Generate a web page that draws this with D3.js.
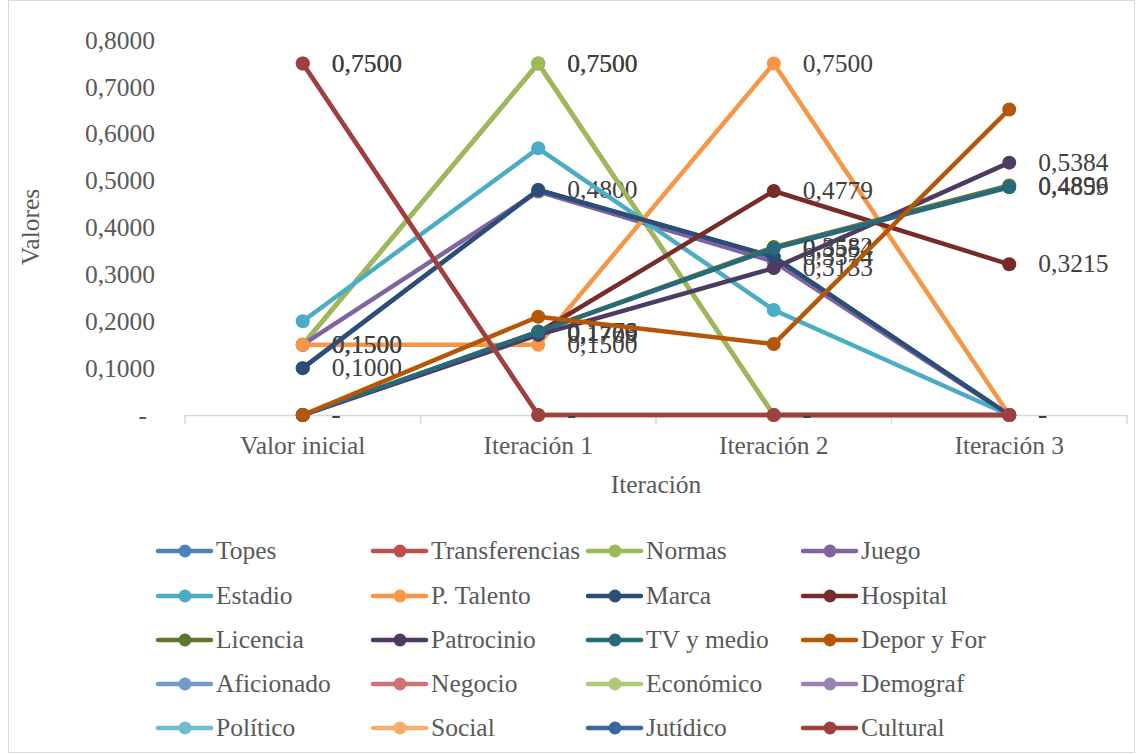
<!DOCTYPE html>
<html>
<head>
<meta charset="utf-8">
<script src="https://cdn.jsdelivr.net/npm/d3@7"></script>
<style>
  body { margin: 0; background: #fff; }
  svg text { font-family: "Liberation Serif", "Times New Roman", serif; }
</style>
</head>
<body>
<div id="chart"></div>
<script>
// categories on the x axis
const categories = ["Valor inicial", "Iteración 1", "Iteración 2", "Iteración 3"];

// series values, one array per series (null = not plotted)
const topes          = [0.1000, 0.4800, 0.3374, 0];
const transferencias = [0.1500, 0.7500, 0, 0];
const normas         = [0.1500, 0.7500, 0, 0];
const juego          = [0.1500, 0.4768, 0.3273, 0];
const estadio        = [0.2000, 0.5690, 0.2239, 0];
const pTalento       = [0.1500, 0.1500, 0.7500, 0];
const marca          = [0.1000, 0.4800, 0.3374, 0];
const hospital       = [0, 0.1760, 0.4779, 0.3215];
const licencia       = [0, 0.1779, 0.3582, 0.4896];
const patrocinio     = [0, 0.1709, 0.3133, 0.5384];
const tvMedio        = [0, 0.1776, 0.3554, 0.4859];
const deporFor       = [0, 0.2096, 0.1514, 0.6518];
const aficionado     = [null, null, null, null];
const negocio        = [0.7500, 0, 0, 0];
const economico      = [null, null, null, null];
const demograf       = [null, null, null, null];
const politico       = [null, null, null, null];
const social         = [null, null, null, null];
const juridico       = [null, null, null, null];
const cultural       = [0.7500, 0, 0, 0];

const seriesNames = ["Topes", "Transferencias", "Normas", "Juego", "Estadio", "P. Talento",
  "Marca", "Hospital", "Licencia", "Patrocinio", "TV y medio", "Depor y For",
  "Aficionado", "Negocio", "Económico", "Demograf", "Político", "Social", "Jutídico", "Cultural"];
const seriesValues = [topes, transferencias, normas, juego, estadio, pTalento,
  marca, hospital, licencia, patrocinio, tvMedio, deporFor,
  aficionado, negocio, economico, demograf, politico, social, juridico, cultural];

// series that carry data labels
const labeledSeries = ["Topes", "Transferencias", "Normas", "P. Talento", "Hospital",
  "Licencia", "Patrocinio", "TV y medio", "Negocio", "Cultural"];

const yTicks = [0, 0.1, 0.2, 0.3, 0.4, 0.5, 0.6, 0.7, 0.8];

const colors = ["#4F81BD", "#C0504D", "#9BBB59", "#8064A2", "#4BACC6", "#F79646",
  "#2C4D75", "#772C2A", "#5F7530", "#4D3B62", "#276A7C", "#B65708",
  "#729ACA", "#CD7371", "#AFC97A", "#9983B5", "#6FBDD1", "#F9AB6B", "#3A679C", "#9E413E"];

const width = 1143, height = 754;
const plot = {left: 185, right: 1127, top: 40, bottom: 415};

const svg = d3.select("#chart").append("svg")
    .attr("width", width)
    .attr("height", height);

svg.append("rect")
    .attr("x", 8.5).attr("y", 0.5)
    .attr("width", 1126).attr("height", 752)
    .attr("fill", "#fff")
    .attr("stroke", "#D9D9D9");

const x = d3.scaleBand()
    .domain(categories)
    .range([plot.left, plot.right])
    .padding(0);
const cx = d => x(d) + x.bandwidth() / 2;

const y = d3.scaleLinear()
    .domain([0, 0.8])
    .range([plot.bottom, plot.top]);

const fmt = v => v === 0 ? "-" : d3.format(".4f")(v).replace(".", ",");

// x axis
const xAxis = svg.append("g")
    .attr("transform", `translate(0,${plot.bottom})`)
    .call(d3.axisBottom(x).tickSize(0).tickPadding(21));
xAxis.select(".domain").attr("stroke", "#D9D9D9").attr("stroke-width", 1.5);
xAxis.selectAll("text")
    .attr("fill", "#595959")
    .style("font-size", "25.5px");
// boundary tick marks between categories
xAxis.selectAll(".bound")
    .data(categories.concat(["__end"]))
    .join("line")
    .attr("class", "bound")
    .attr("x1", (d, i) => i < categories.length ? x(d) : plot.right)
    .attr("x2", (d, i) => i < categories.length ? x(d) : plot.right)
    .attr("y1", 0).attr("y2", 9)
    .attr("stroke", "#D9D9D9")
    .attr("stroke-width", 1.5);

// y axis (labels only)
const yAxis = svg.append("g")
    .attr("transform", `translate(155,0)`)
    .call(d3.axisLeft(y).tickValues(yTicks).tickSize(0).tickPadding(0).tickFormat(fmt));
yAxis.select(".domain").remove();
yAxis.selectAll("text")
    .attr("fill", "#595959")
    .attr("dy", "0.32em")
    .attr("dx", d => d === 0 ? -8 : 0)
    .style("font-size", "25.5px");

// axis titles
svg.append("text")
    .attr("x", 656).attr("y", 484)
    .attr("text-anchor", "middle")
    .attr("dominant-baseline", "central")
    .attr("fill", "#595959")
    .style("font-size", "25.5px")
    .text("Iteración");

svg.append("text")
    .attr("transform", "translate(30,227) rotate(-90)")
    .attr("text-anchor", "middle")
    .attr("dominant-baseline", "central")
    .attr("fill", "#595959")
    .style("font-size", "25.5px")
    .text("Valores");

// series: line, markers and labels drawn together, in order
const line = d3.line()
    .defined(d => d.v !== null)
    .x(d => cx(d.c))
    .y(d => y(d.v));

seriesNames.forEach((name, i) => {
  const pts = categories.map((c, j) => ({c: c, v: seriesValues[i][j]})).filter(d => d.v !== null);
  if (!pts.length) return;
  const g = svg.append("g");
  g.append("path")
      .datum(pts)
      .attr("d", line)
      .attr("fill", "none")
      .attr("stroke", colors[i])
      .attr("stroke-width", 4.5)
      .attr("stroke-linejoin", "round");
  g.selectAll("circle")
      .data(pts)
      .join("circle")
      .attr("cx", d => cx(d.c))
      .attr("cy", d => y(d.v))
      .attr("r", 7)
      .attr("fill", colors[i]);
  if (labeledSeries.includes(name)) {
    g.selectAll("text")
        .data(pts)
        .join("text")
        .attr("x", d => cx(d.c) + 29)
        .attr("y", d => y(d.v))
        .attr("dy", "0.32em")
        .attr("fill", "#404040")
        .style("font-size", "25.5px")
        .text(d => fmt(d.v));
  }
});

// legend
const legendCols = [158, 373, 588, 803];
const legendRows = [551, 596, 640, 684, 728];
const legend = svg.append("g");
seriesNames.forEach((name, i) => {
  const lx = legendCols[i % 4], ly = legendRows[Math.floor(i / 4)];
  const item = legend.append("g").attr("transform", `translate(${lx},${ly})`);
  item.append("line")
      .attr("x1", 0).attr("x2", 53)
      .attr("stroke", colors[i])
      .attr("stroke-width", 4.5)
      .attr("stroke-linecap", "round");
  item.append("circle")
      .attr("cx", 27).attr("r", 6.5)
      .attr("fill", colors[i]);
  item.append("text")
      .attr("x", 58)
      .attr("dy", "0.32em")
      .attr("fill", "#595959")
      .style("font-size", "25.5px")
      .text(name);
});
</script>
</body>
</html>
